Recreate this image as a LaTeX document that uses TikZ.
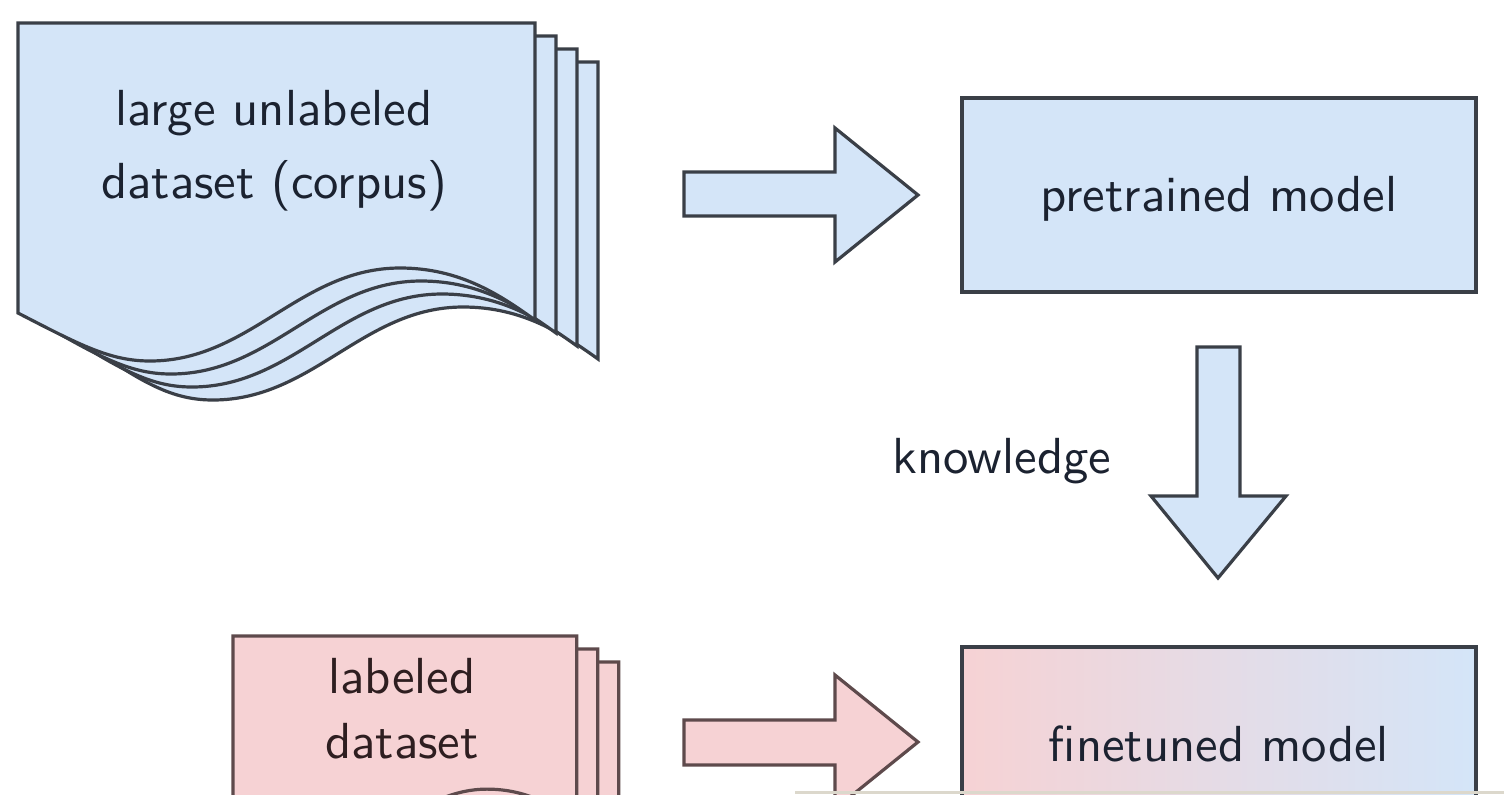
\documentclass[tikz,border=0pt]{standalone}
\usepackage{fontspec}
\definecolor{bfill}{HTML}{D4E5F8}
\definecolor{bstroke}{HTML}{3A3F47}
\definecolor{btext}{HTML}{1B2230}
\definecolor{pfill}{HTML}{F6D2D4}
\definecolor{pstroke}{HTML}{5E4A4C}
\definecolor{ptext}{HTML}{2E1E20}
\definecolor{band}{HTML}{DCD8CC}
\newcommand{\docsheet}[2]{\path[#1] (0,0) -- (517,0) -- (517,297) .. controls (482,272) and (442,245) .. (382,245) .. controls (282,245) and (232,338) .. (132,338) .. controls (92,338) and (62,322) .. (0,#2) -- cycle;}
\begin{document}
\begin{tikzpicture}[x=0.5pt,y=-0.5pt,
  bluepage/.style={fill=bfill, draw=bstroke, line width=1.6pt, line join=miter},
  pinkpage/.style={fill=pfill, draw=pstroke, line width=1.6pt, line join=miter},
  blockb/.style={fill=bfill, draw=bstroke, line width=1.6pt, line join=miter},
  blockp/.style={fill=pfill, draw=pstroke, line width=1.6pt, line join=miter},
  lbl/.style={font=\sffamily\fontsize{10}{14.4}\selectfont, scale=2.535, align=center, text=btext, inner sep=0pt},
  lblp/.style={font=\sffamily\fontsize{10}{12.8}\selectfont, scale=2.535, align=center, text=ptext, inner sep=0pt},
  modelbox/.style={draw=bstroke, line width=1.6pt, minimum width=257pt, minimum height=97pt}]
\useasboundingbox (0,0) rectangle (1504,794);
\clip (0,0) rectangle (1504,794);
\fill[white] (0,0) rectangle (1504,794);
% top stack of pages
\foreach \k in {3,2,1,0} {
  \begin{scope}[shift={(18+21*\k,23+13*\k)}]
    \pgfmathsetmacro{\ly}{290-4*\k}
    \docsheet{bluepage}{\ly}
  \end{scope}
}
\node[lbl] (corpus) at (274,151) {large unlabeled\\dataset (corpus)};
% bottom stack of pages
\foreach \k in {2,1,0} {
  \begin{scope}[shift={(233+21*\k,636+13*\k)}, xscale=0.665, yscale=0.625]
    \pgfmathsetmacro{\ly}{290-4*\k}
    \docsheet{pinkpage}{\ly}
  \end{scope}
}
\node[lblp] (labeled) at (402,709) {labeled\\dataset};
% models
\node[modelbox, fill=bfill] (pre) at (1219,195) {};
\node[lbl] (pretext) at ([yshift=-2pt]pre.center) {pretrained model};
\node[modelbox, left color=pfill, right color=bfill] (fine) at (1219,744) {};
\node[lbl] (finetext) at (fine.center) {finetuned model};
% arrows
\draw[blockb] (684,172) -- (835,172) -- (835,128) -- (918,195) -- (835,262) -- (835,216) -- (684,216) -- cycle;
\draw[blockp] (684,720) -- (835,720) -- (835,675) -- (918,742) -- (835,809) -- (835,765) -- (684,765) -- cycle;
\draw[blockb] (1197,347) -- (1240,347) -- (1240,496) -- (1286,496) -- (1218,578) -- (1151,496) -- (1197,496) -- cycle;
\node[lbl] (know) at (1002,461) {knowledge};
% bottom band
\fill[band] (795,791) rectangle (1504,794);
\end{tikzpicture}
\end{document}
